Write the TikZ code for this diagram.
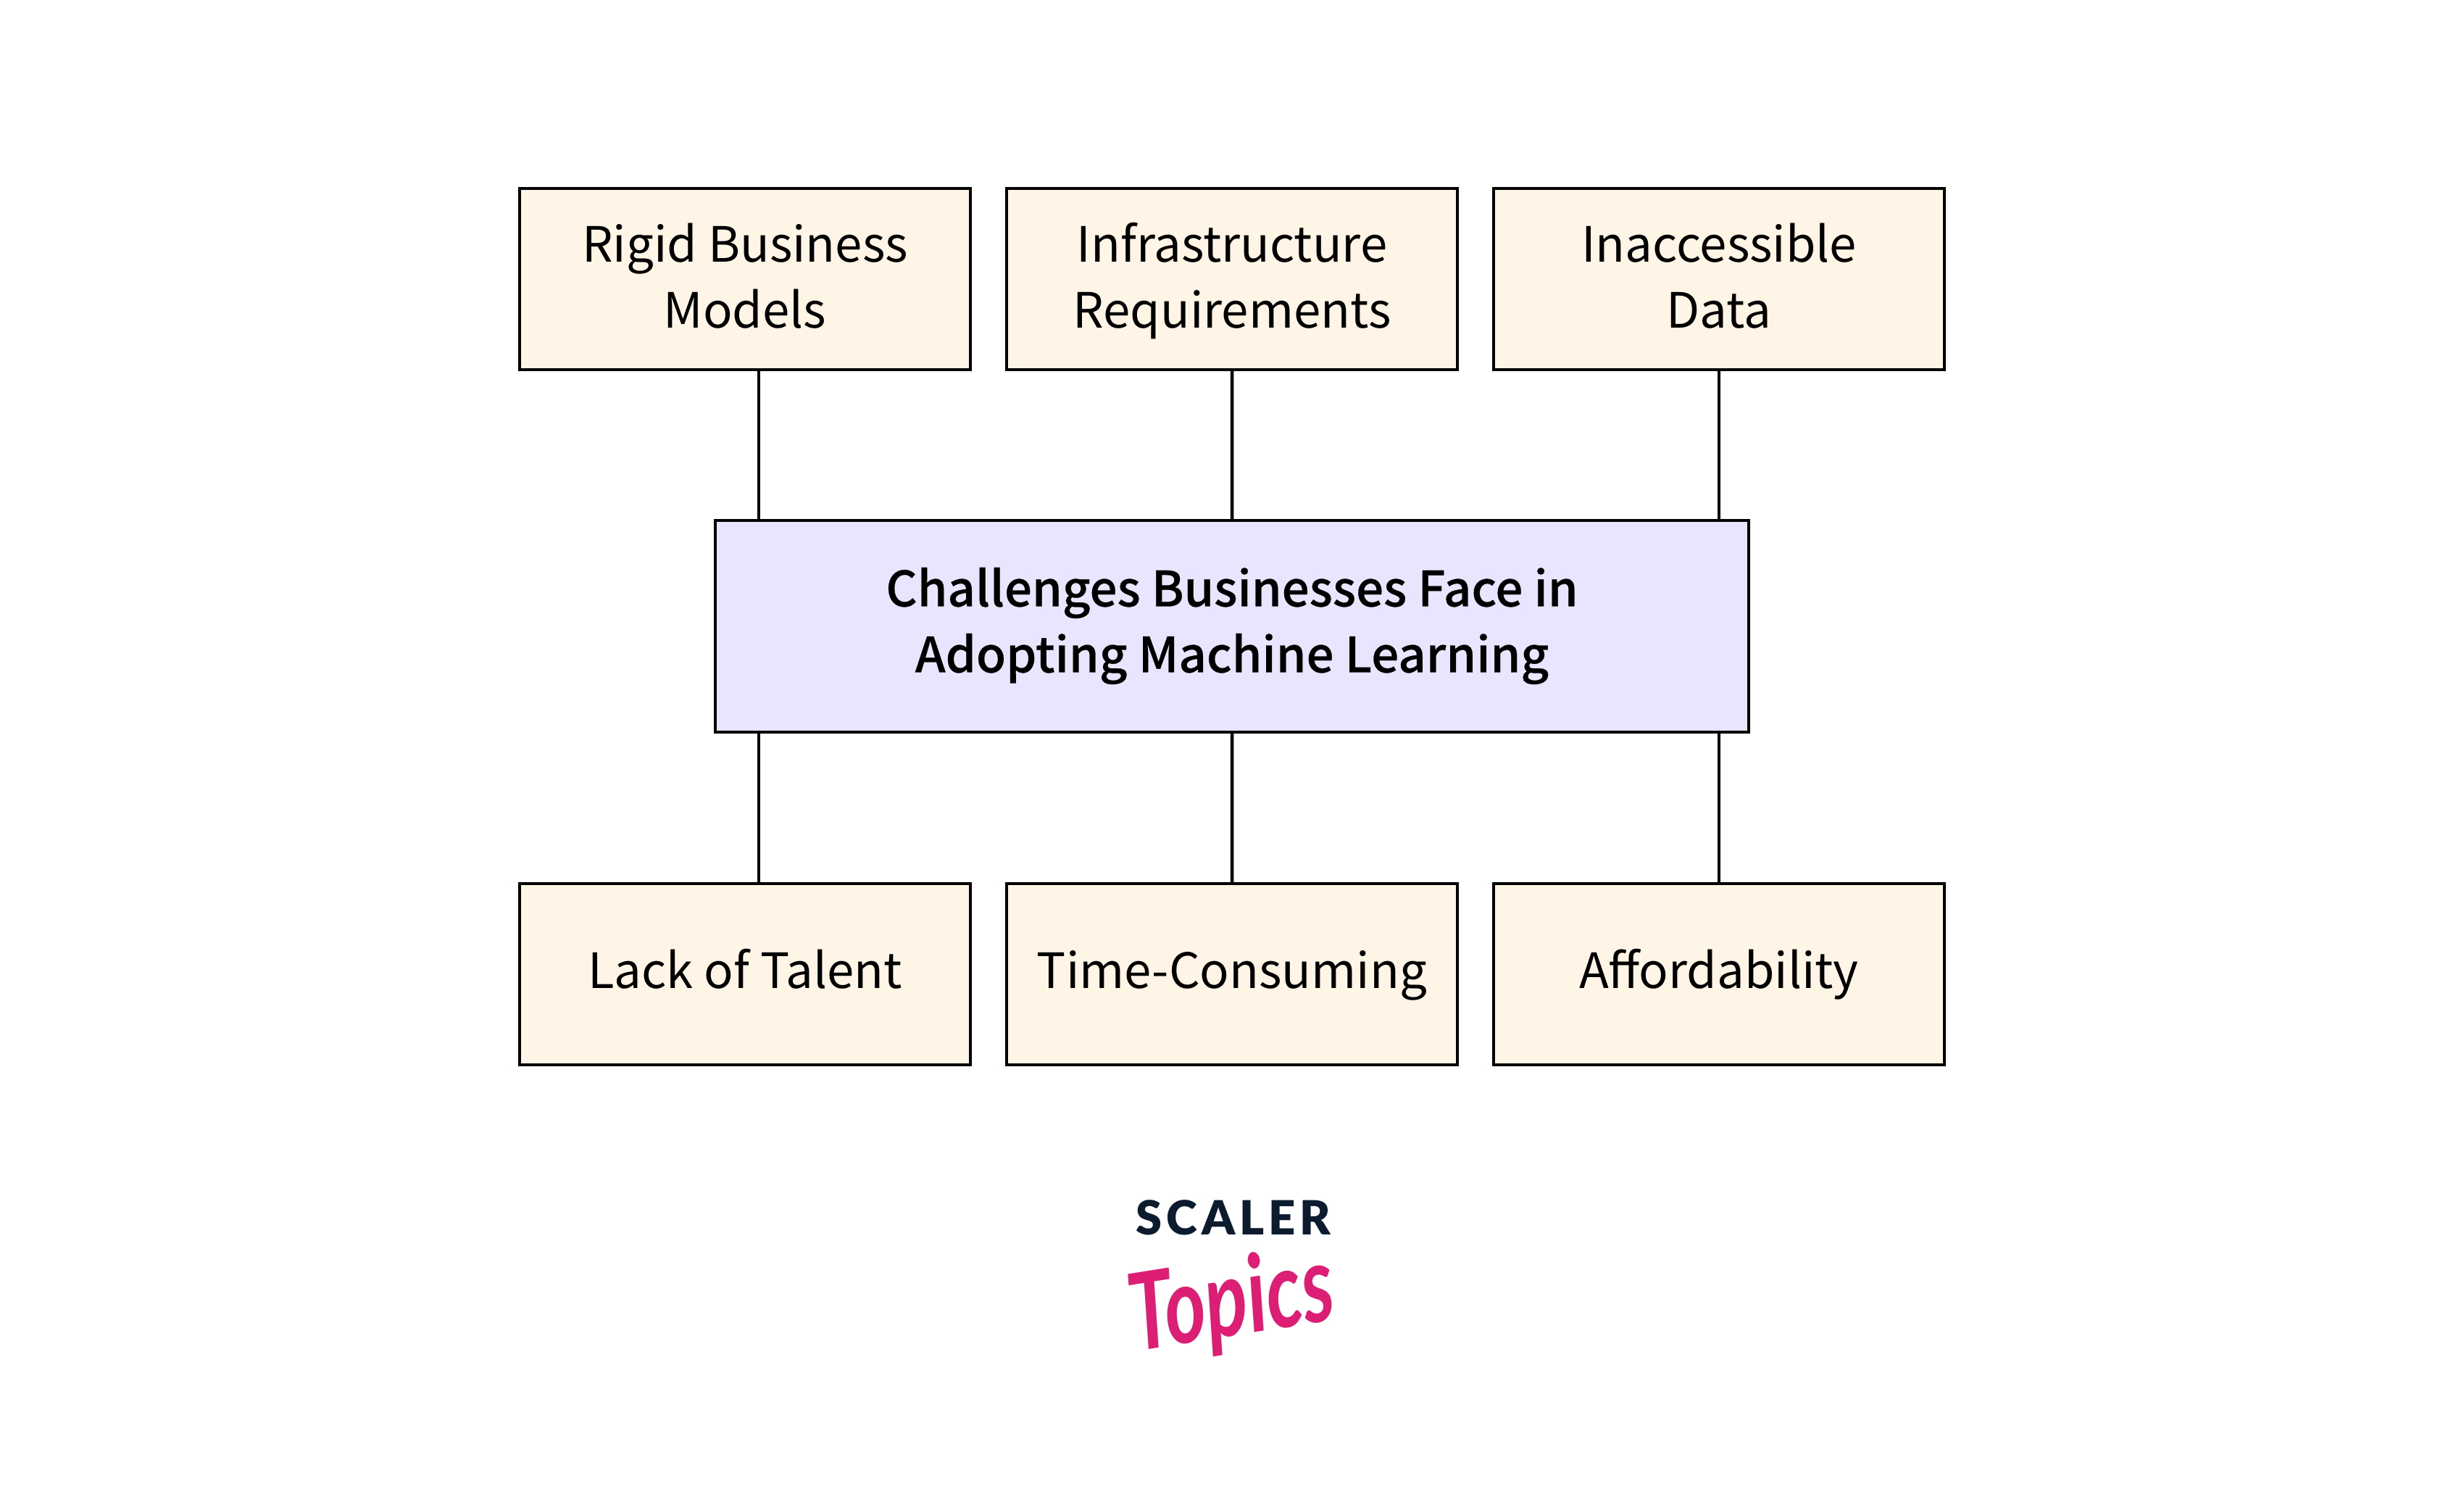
\documentclass[tikz,border=0pt]{standalone}
\usepackage{fontspec}
\setmainfont{Noto Sans CJK SC}
\newfontfamily\medfont[FakeBold=0.4]{Noto Sans CJK SC Medium}
\newfontfamily\logofont{Lato Black}
\newfontfamily\topicsfont{Lato Bold Italic}
\usetikzlibrary{positioning}
\definecolor{creambox}{HTML}{FFF5E7}
\definecolor{lavbox}{HTML}{E8E6FE}
\definecolor{logonavy}{HTML}{0D1B2E}
\definecolor{logopink}{HTML}{DC1F75}
\newcommand{\boxstrut}{\rule[-5pt]{0pt}{21pt}}
\newcommand{\twolines}[2]{\rule{0pt}{17.5pt}#1\\#2}
\tikzset{
    auto,node distance =0.5 cm and 0.5 cm,
    box/.style ={rectangle, draw=black, fill=creambox, outer sep=0pt, align=center,
        execute at begin node=\boxstrut,
        minimum width = 6.22 cm, minimum height = 2.5 cm, font=\fontsize{19.1}{25.9}\selectfont},
    corebox/.style ={box, fill=lavbox, minimum width = 14.26 cm, minimum height = 2.92 cm,
        font=\medfont\fontsize{19.1}{25.9}\selectfont}
}

\begin{document}
\begin{tikzpicture}[line width=0.045cm]
    \useasboundingbox[fill=white] (0,0) rectangle (34,-20.78);

    \node[box] (rigid) at (10.28,-3.85) {\twolines{Rigid Business}{Models}};
    \node[box] (infra) [right=of rigid] {\twolines{Infrastructure}{Requirements}};
    \node[box] (data) [right=of infra] {\twolines{Inaccessible}{Data}};

    \node[corebox] (core) at (17,-8.64) {Challenges Businesses Face in\\Adopting Machine Learning};

    \node[box] (talent) at (10.28,-13.44) {Lack of Talent};
    \node[box] (time) [right=of talent] {Time-Consuming};
    \node[box] (afford) [right=of time] {Affordability};

    \coordinate (ltop) at (10.47,-7.18);
    \coordinate (lbot) at (10.47,-10.10);

    \path (ltop |- rigid.south) edge (ltop);
    \path (infra) edge (core);
    \path (data) edge (data |- core.north);
    \path (lbot) edge (lbot |- talent.north);
    \path (core) edge (time);
    \path (data |- core.south) edge (afford);

    \node[text=logonavy, font=\logofont\fontsize{18.5}{18.5}\selectfont, inner sep=0pt] (scaler) at (17.02,-16.80) {\addfontfeature{LetterSpace=9}SCALER};
    \node[text=logopink, font=\topicsfont\fontsize{35}{35}\selectfont, inner sep=0pt, rotate=9, xscale=0.88, yscale=1.2] (topics) at (17.0,-18.0) {Topics};
\end{tikzpicture}
\end{document}
